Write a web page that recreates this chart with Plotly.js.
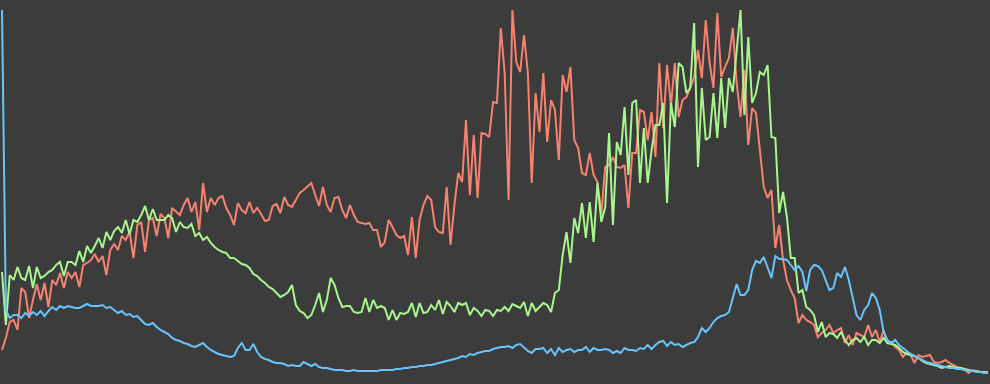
<!DOCTYPE html>
<html>
<head>
<meta charset="utf-8">
<script src="https://cdn.plot.ly/plotly-3.0.1.min.js"></script>
<style>
html,body{margin:0;padding:0;background:#3c3c3c;overflow:hidden;}
#chart{width:990px;height:384px;}
</style>
</head>
<body>
<div id="chart"></div>
<script>
// Histogram counts per intensity level (0-255)
const redCounts = [34,46,62,64,54,96,92,66,84,100,84,101,77,104,99,111,96,112,106,112,
97,119,121,124,130,122,128,109,134,140,134,148,144,152,126,159,162,132,164,166,
148,170,166,146,176,172,169,179,186,172,182,154,201,172,186,179,186,188,176,169,
159,181,174,171,182,171,176,170,163,164,178,180,171,187,179,177,184,191,194,198,
201,189,178,197,179,172,186,187,174,166,179,169,162,161,160,161,154,154,137,142,
164,157,149,146,148,129,167,126,164,179,188,184,157,152,151,197,139,179,211,202,
264,189,249,186,251,250,247,282,281,356,311,184,374,322,312,349,311,201,291,252,
311,242,284,274,224,309,292,317,244,236,211,209,231,209,202,170,217,219,227,217,
216,219,176,231,231,274,272,244,272,227,321,256,319,278,321,267,284,287,296,307,
334,306,364,321,296,371,307,317,326,356,301,267,314,239,276,271,231,197,186,194,
136,159,124,104,94,86,61,69,64,62,59,47,51,54,59,51,54,56,41,49,
39,51,49,47,59,47,54,42,54,41,42,37,34,27,32,29,21,29,27,28,
29,22,21,22,24,21,19,17,16,14,11,14,13,12,12,12];

const greenCounts = [112,59,109,104,117,106,104,118,96,117,106,108,112,114,119,122,108,122,122,119,
133,122,138,131,138,146,136,152,144,153,157,151,164,150,164,162,169,178,164,175,
164,164,164,169,166,152,162,157,156,160,148,151,144,147,141,137,134,132,131,126,
126,123,120,119,116,110,108,104,101,97,95,91,87,89,92,99,79,73,71,66,
69,79,91,72,84,106,99,86,77,78,78,72,71,72,86,72,84,76,78,76,
64,74,64,71,70,72,81,67,81,71,72,79,74,84,70,82,78,72,81,79,
81,69,76,73,68,74,73,68,74,73,77,73,80,78,76,82,68,81,73,77,
81,79,72,91,94,129,152,121,166,151,181,146,182,142,201,162,177,251,159,242,
229,277,209,281,284,201,256,201,234,259,259,281,181,281,257,321,317,291,296,361,
217,296,244,247,291,246,306,256,306,292,334,374,269,347,281,291,312,309,319,247,
246,171,192,167,126,126,91,94,77,74,69,52,62,47,51,50,46,52,44,39,
44,46,42,47,39,44,44,41,46,41,40,39,36,32,30,29,28,26,23,21,
20,19,18,16,17,18,17,16,16,15,14,13,13,12,12,11];

const blueCounts = [374,74,66,69,69,66,71,68,72,69,73,68,73,77,74,78,76,78,77,76,
76,78,80,78,78,78,79,76,77,74,71,73,69,70,67,68,64,60,59,61,
57,54,52,50,46,44,43,41,40,38,37,39,41,37,34,32,30,29,28,27,
28,36,41,34,34,40,32,27,25,24,22,21,21,20,18,19,18,18,22,20,
18,20,17,16,16,15,14,14,14,13,13,14,13,13,13,13,13,13,14,14,
14,14,15,15,16,16,17,17,18,18,19,19,20,21,22,23,24,25,26,28,
27,30,29,31,32,33,33,35,36,37,37,38,36,39,40,36,33,31,35,35,
36,31,35,29,36,32,34,35,32,34,34,37,32,36,34,34,35,34,31,33,
31,36,34,34,33,36,35,39,35,39,42,43,38,42,39,40,37,39,41,42,
47,56,52,56,62,66,68,69,72,86,100,89,89,94,114,123,121,127,117,106,
128,125,125,124,119,114,118,112,93,114,119,118,114,104,94,96,111,107,117,104,
86,69,64,74,79,91,86,74,52,44,41,44,39,36,33,30,28,26,24,22,
21,20,19,18,17,16,16,15,15,14,13,13,12,12,11,11];

const levels = redCounts.map((_, i) => i);

const traces = [
  {x: levels, y: redCounts, name: 'Red', mode: 'lines', line: {color: 'rgb(246,130,112)', width: 2}},
  {x: levels, y: greenCounts, name: 'Green', mode: 'lines', line: {color: 'rgb(168,246,142)', width: 2}},
  {x: levels, y: blueCounts, name: 'Blue', mode: 'lines', line: {color: 'rgb(104,196,252)', width: 2}}
];

const layout = {
  width: 990, height: 384,
  margin: {l: 0, r: 0, t: 0, b: 0, pad: 0},
  paper_bgcolor: '#3c3c3c', plot_bgcolor: '#3c3c3c',
  showlegend: false,
  xaxis: {range: [-0.52, 255.52], visible: false, fixedrange: true},
  yaxis: {range: [0, 384], visible: false, fixedrange: true}
};

Plotly.newPlot('chart', traces, layout, {displayModeBar: false, staticPlot: true});
</script>
</body>
</html>
